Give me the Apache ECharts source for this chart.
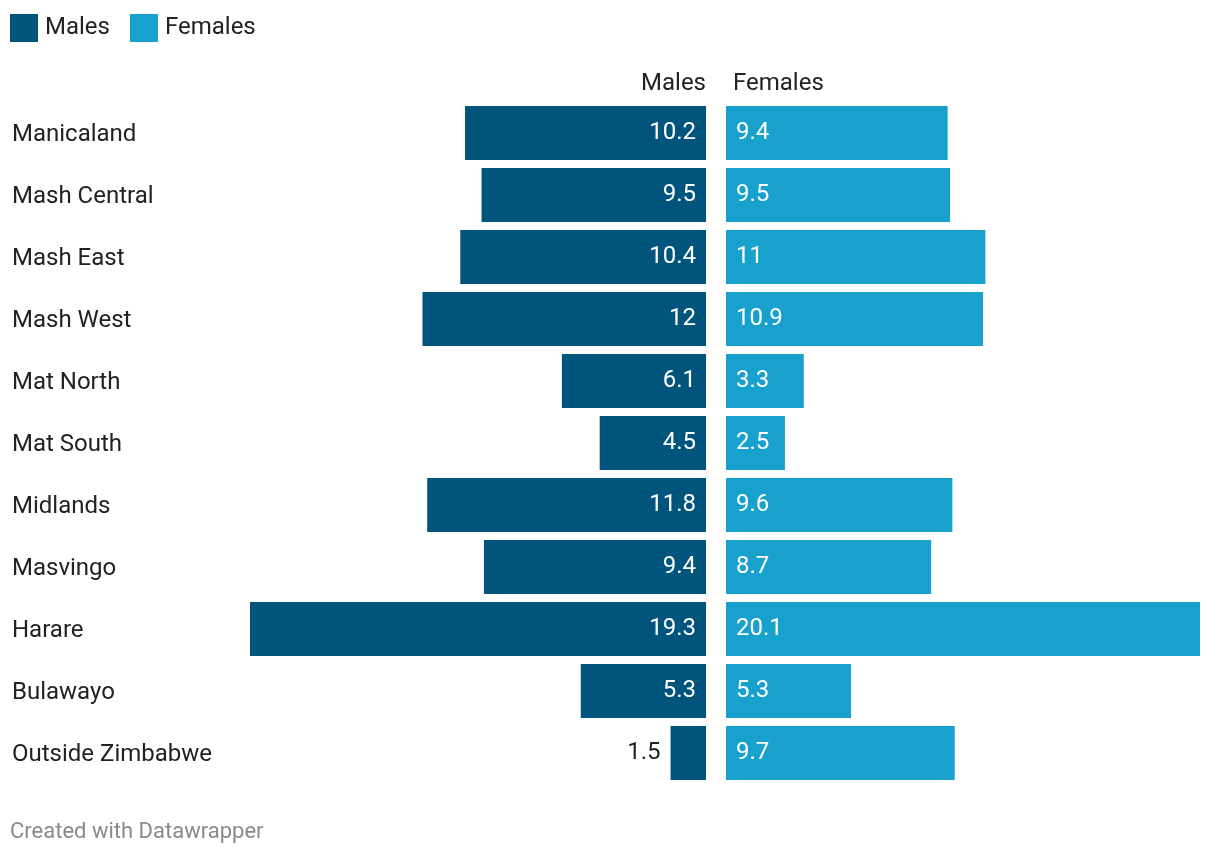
<!DOCTYPE html>
<html><head><meta charset="utf-8">
<script src="https://cdn.jsdelivr.net/npm/echarts@6/dist/echarts.min.js"></script>
<style>html,body{margin:0;padding:0;background:#fff}#c{width:1220px;height:858px}</style>
</head><body><div id="c"></div>
<script>
const categories = ["Manicaland","Mash Central","Mash East","Mash West","Mat North","Mat South","Midlands","Masvingo","Harare","Bulawayo","Outside Zimbabwe"];
const males = [10.2,9.5,10.4,12,6.1,4.5,11.8,9.4,19.3,5.3,1.5];
const females = [9.4,9.5,11,10.9,3.3,2.5,9.6,8.7,20.1,5.3,9.7];
const MALE_COLOR = '#01547b', FEMALE_COLOR = '#19a1cd';
const FONT = 'Roboto';
const chart = echarts.init(document.getElementById('c'), null, {renderer:'canvas'});
const maleData = males.map(v => {
  const d = {value: v};
  if (v < 3) d.label = {position: 'left', color: '#222', distance: 10};
  return d;
});
chart.setOption({
  animation: false,
  textStyle: {fontFamily: FONT},
  legend: {
    left: 5, top: 9, itemWidth: 28, itemHeight: 28, itemGap: 20, icon: 'rect',
    textStyle: {fontFamily: FONT, fontSize: 24, color: '#222', padding: [0,0,0,2]},
    data: ['Males','Females']
  },
  grid: [
    {left: 250, width: 456, top: 102, height: 682},
    {left: 726, width: 474, top: 102, height: 682}
  ],
  xAxis: [
    {gridIndex: 0, type: 'value', min: 0, max: 19.3, inverse: true, show: false},
    {gridIndex: 1, type: 'value', min: 0, max: 20.1, show: false}
  ],
  yAxis: [
    {gridIndex: 0, type: 'category', data: categories, inverse: true,
     axisLine: {show: false}, axisTick: {show: false}, splitLine: {show: false},
     axisLabel: {align: 'left', margin: 238, fontFamily: FONT, fontSize: 24, color: '#222', verticalAlign: 'top', lineHeight: 4}},
    {gridIndex: 1, type: 'category', data: categories, inverse: true, show: false}
  ],
  series: [
    {name: 'Males', type: 'bar', xAxisIndex: 0, yAxisIndex: 0, data: maleData,
     barCategoryGap: '12.9%', itemStyle: {color: MALE_COLOR},
     label: {show: true, position: 'insideRight', distance: 10, color: '#fff', fontFamily: FONT, fontSize: 24}},
    {name: 'Females', type: 'bar', xAxisIndex: 1, yAxisIndex: 1, data: females,
     barCategoryGap: '12.9%', itemStyle: {color: FEMALE_COLOR},
     label: {show: true, position: 'insideLeft', distance: 10, color: '#fff', fontFamily: FONT, fontSize: 24}}
  ],
  graphic: [
    {type: 'text', right: 1220-706, top: 72, style: {text: 'Males', font: '24px Roboto', fill: '#222', textAlign: 'right'}},
    {type: 'text', left: 733, top: 72, style: {text: 'Females', font: '24px Roboto', fill: '#222'}},
    {type: 'text', left: 10, top: 821, style: {text: 'Created with Datawrapper', font: '22px Roboto', fill: '#8a8a8a'}}
  ]
});
</script></body></html>
